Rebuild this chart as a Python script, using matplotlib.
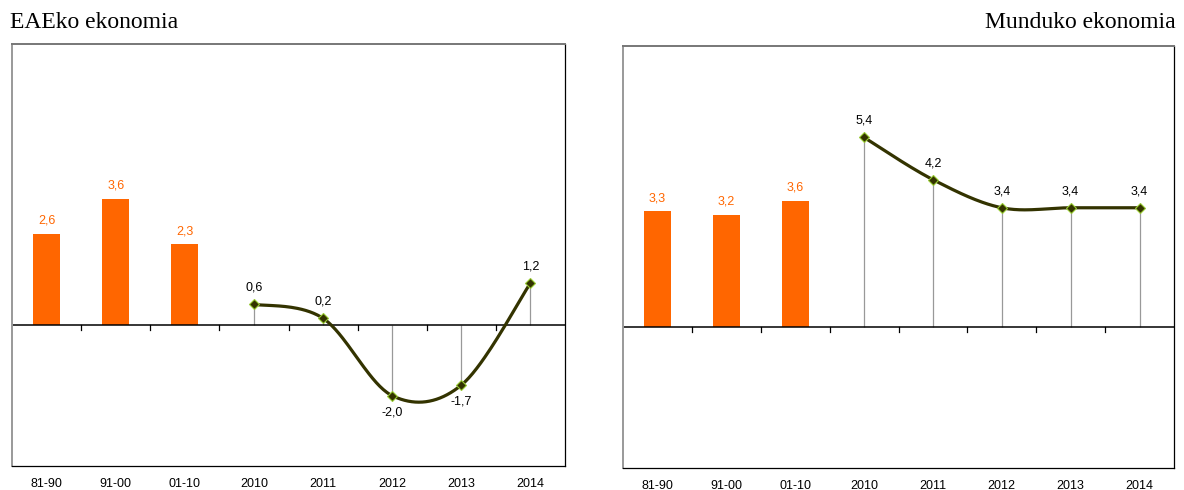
import numpy as np
import matplotlib
matplotlib.use("Agg")
import matplotlib.pyplot as plt
from matplotlib import font_manager

# Datos
categorias = ["81-90", "91-00", "01-10", "2010", "2011", "2012", "2013", "2014"]
eae_barras = [2.6, 3.6, 2.3]
eae_linea = [0.6, 0.2, -2.0, -1.7, 1.2]
mundo_barras = [3.3, 3.2, 3.6]
mundo_linea = [5.4, 4.2, 3.4, 3.4, 3.4]

NARANJA = "#FF6600"
OLIVA = "#333300"

nombres = {f.name for f in font_manager.fontManager.ttflist}
narrow = "Liberation Sans Narrow" if "Liberation Sans Narrow" in nombres else "Liberation Sans"


def fmt(v):
    return f"{v:.1f}".replace(".", ",")


def suavizar(x, y, n=40):
    # curva tipo Excel: Bezier con puntos de control a 1/6
    x = np.asarray(x, float)
    y = np.asarray(y, float)
    px = np.concatenate([[x[0]], x, [x[-1]]])
    py = np.concatenate([[y[0]], y, [y[-1]]])
    xs, ys = [], []
    t = np.linspace(0, 1, n)
    for i in range(1, len(px) - 2):
        p0 = np.array([px[i], py[i]])
        p3 = np.array([px[i + 1], py[i + 1]])
        c1 = p0 + (np.array([px[i + 1], py[i + 1]]) - np.array([px[i - 1], py[i - 1]])) / 6
        c2 = p3 - (np.array([px[i + 2], py[i + 2]]) - np.array([px[i], py[i]])) / 6
        b = ((1 - t) ** 3)[:, None] * p0 + (3 * (1 - t) ** 2 * t)[:, None] * c1 \
            + (3 * (1 - t) * t ** 2)[:, None] * c2 + (t ** 3)[:, None] * p3
        xs.extend(b[:, 0])
        ys.extend(b[:, 1])
    return np.array(xs), np.array(ys)


def panel(ax, barras, linea):
    xb = np.arange(len(barras))
    ax.bar(xb, barras, width=0.39, color=NARANJA, zorder=2)
    for x, v in zip(xb, barras):
        ax.text(x, v + 0.2, fmt(v), ha="center", va="bottom", color=NARANJA,
                fontsize=9, family=narrow)

    xl = np.arange(len(barras), len(categorias))
    ax.vlines(xl, 0, linea, color="#999999", lw=0.9, zorder=1)
    sx, sy = suavizar(xl, linea)
    ax.plot(sx, sy, color=OLIVA, lw=2.3, zorder=3, solid_capstyle="round")
    ax.plot(xl, linea, "D", ms=5, mfc=OLIVA, mec="#99CC33", mew=0.8, zorder=4)
    for x, v in zip(xl, linea):
        if v >= 0:
            ax.text(x, v + 0.3, fmt(v), ha="center", va="bottom", fontsize=9, family=narrow)
        else:
            ax.text(x, v - 0.3, fmt(v), ha="center", va="top", fontsize=9, family=narrow)

    ax.axhline(0, color="black", lw=1.1, zorder=2)
    ax.set_xlim(-0.5, len(categorias) - 0.5)
    ax.set_ylim(-4, 8)
    ax.set_yticks([])
    ax.set_xticks([])
    # marcas entre categorias sobre el eje cero
    for k in range(1, len(categorias)):
        ax.plot([k - 0.5, k - 0.5], [0, -0.12], color="black", lw=0.9, zorder=2)
    for i, c in enumerate(categorias):
        ax.text(i, -4.52, c, ha="center", va="center", fontsize=9, family=narrow)
    for s in ["left", "top"]:
        ax.spines[s].set_color("#777777")
        ax.spines[s].set_linewidth(1.4)
    for s in ["right", "bottom"]:
        ax.spines[s].set_color("black")
        ax.spines[s].set_linewidth(0.9)
    ax.spines["left"].set_color("#999999")


fig = plt.figure(figsize=(11.84, 4.9), dpi=100)
ax1 = fig.add_axes([12 / 1184, 1 - 466 / 490, 553 / 1184, 422 / 490])
ax2 = fig.add_axes([623 / 1184, 1 - 468 / 490, 551 / 1184, 422 / 490])

panel(ax1, eae_barras, eae_linea)
panel(ax2, mundo_barras, mundo_linea)

fig.text(10 / 1184, 1 - 23 / 490, "EAEko ekonomia", ha="left", va="center",
         fontsize=17, family="Liberation Serif")
fig.text(1176 / 1184, 1 - 23 / 490, "Munduko ekonomia", ha="right", va="center",
         fontsize=17, family="Liberation Serif")

fig.savefig("out.png", dpi=100)
